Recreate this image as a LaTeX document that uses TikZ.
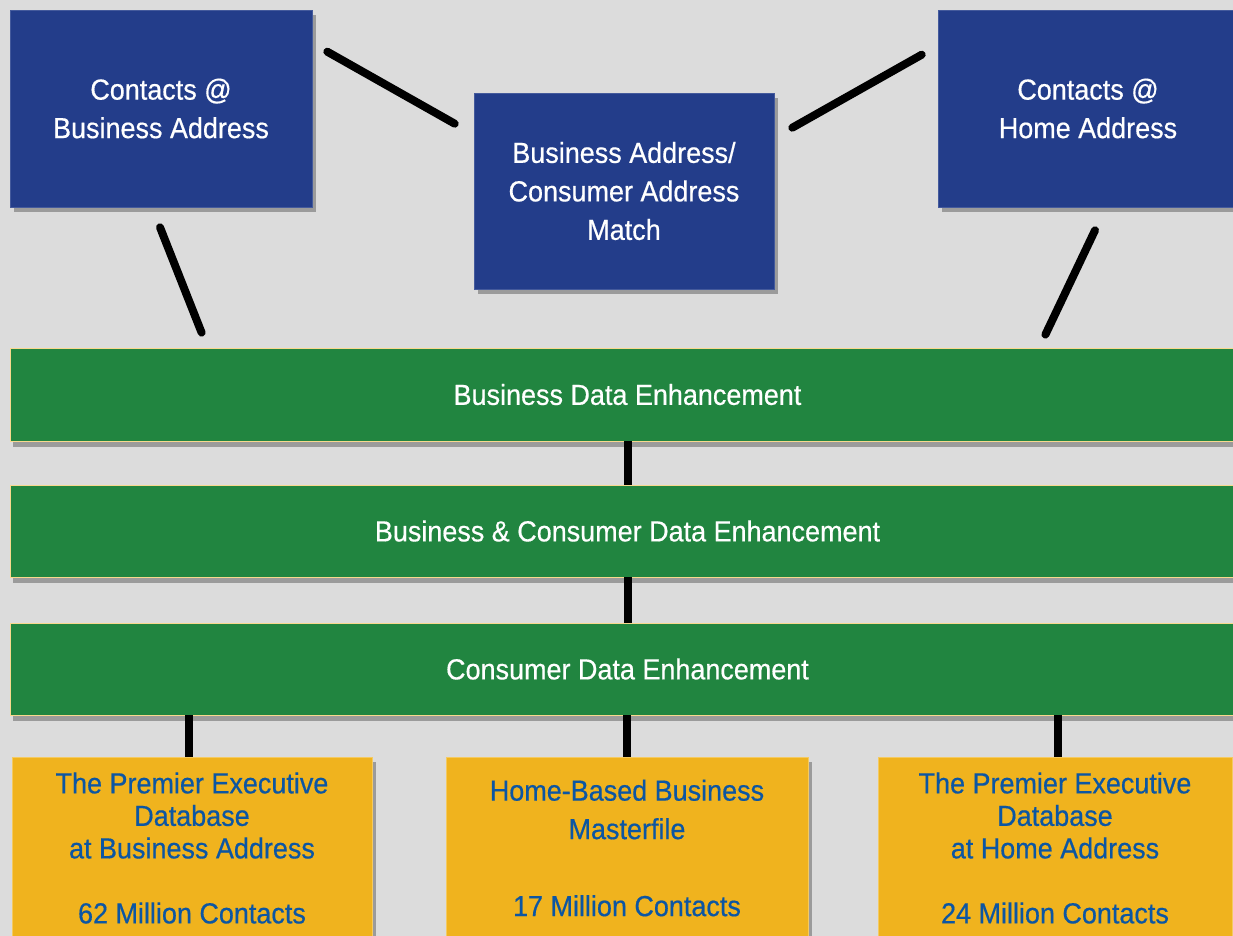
\documentclass[tikz,border=0pt]{standalone}
\usepackage{fontspec}
\setmainfont{Liberation Sans}[FakeStretch=0.93, FakeBold=0.5]
\usepackage{tikz}
\usetikzlibrary{shadows, calc}
\definecolor{PageGray}{HTML}{DCDCDC}
\definecolor{MatchBlue}{HTML}{233D8A}
\definecolor{LayerGreen}{HTML}{218540}
\definecolor{FileGold}{HTML}{F0B31E}
\definecolor{FileText}{HTML}{0C56A3}
\tikzset{
  % Box styles
  sourcebox/.style={rectangle, draw=MatchBlue!85!white, line width=0.6pt, fill=MatchBlue, text=white, minimum width=300pt, minimum height=197pt, inner sep=0pt, align=center, font={\fontsize{29}{38.5}\selectfont}, drop shadow={fill=black!70, opacity=0.45, shadow xshift=4pt, shadow yshift=-5pt}},
  layerbox/.style={rectangle, draw=FileGold!50!white, line width=0.8pt, fill=LayerGreen, text=white, minimum width=1235pt, minimum height=92pt, inner sep=0pt, align=center, font={\fontsize{29}{34}\selectfont}, drop shadow={fill=black!70, opacity=0.45, shadow xshift=3pt, shadow yshift=-6pt}},
  filebox/.style={rectangle, draw=FileGold!70!white, line width=0.6pt, fill=FileGold, text=FileText, minimum width=360pt, minimum height=182pt, inner sep=0pt, align=center, font={\fontsize{29}{32.5}\selectfont}, drop shadow={fill=black!70, opacity=0.45, shadow xshift=4pt, shadow yshift=-5pt}},
  % Connector styles
  link/.style={line width=8pt, line cap=round, black},
  stem/.style={line width=8pt, black}
}

\begin{document}
\begin{tikzpicture}[x=1pt, y=-1pt]
  % Page
  \useasboundingbox (0,0) rectangle (1233,936);
  \clip (0,0) rectangle (1233,936);
  \fill[PageGray] (0,0) rectangle (1233,936);

  % Address sources
  \node[sourcebox, minimum width=302pt] (bizaddr) at (161,108.5) {Contacts @\\Business Address};
  \node[sourcebox, minimum height=196pt] (match) at (624,191) {Business Address/\\Consumer Address\\Match};
  \node[sourcebox] (homeaddr) at (1088,108.5) {Contacts @\\Home Address};

  % Enhancement layers
  \node[layerbox, minimum height=93pt] (bizlayer) at (627.5,394.5) {Business Data Enhancement};
  \node[layerbox] (mixlayer) at (627.5,531) {Business \& Consumer Data Enhancement};
  \node[layerbox] (conlayer) at (627.5,669) {Consumer Data Enhancement};

  % Databases
  \node[filebox] (bizfile) at (192,848) {The Premier Executive\\Database\\at Business Address\\[32.5pt]62 Million Contacts};
  \node[filebox, minimum width=362pt, font={\fontsize{29}{38.5}\selectfont}] (hbbfile) at (627,848) {Home-Based Business\\Masterfile\\[38.5pt]17 Million Contacts};
  \node[filebox, minimum width=354pt] (homefile) at (1055,848) {The Premier Executive\\Database\\at Home Address\\[32.5pt]24 Million Contacts};

  % Connectors between sources
  \draw[link] ([shift={(15,42)}]bizaddr.north east) -- ([shift={(-19,31)}]match.north west);
  \draw[link] ([shift={(18,35)}]match.north east) -- ([shift={(-16,45)}]homeaddr.north west);

  % Sources into the first layer
  \draw[link] ([shift={(-1,20)}]bizaddr.south) -- ([shift={(192,-15)}]bizlayer.north west);
  \draw[link] ([shift={(7,23)}]homeaddr.south) -- ([shift={(-200,-13)}]bizlayer.north east);

  % Layer to layer
  \draw[stem] (bizlayer) -- (mixlayer);
  \draw[stem] (mixlayer) -- (conlayer);

  % Last layer to the databases
  \draw[stem] ([xshift=-3pt]conlayer.south -| bizfile) -- ([xshift=-3pt]bizfile.north);
  \draw[stem] (conlayer.south -| hbbfile) -- (hbbfile);
  \draw[stem] ([xshift=3pt]conlayer.south -| homefile) -- ([xshift=3pt]homefile.north);
\end{tikzpicture}
\end{document}
